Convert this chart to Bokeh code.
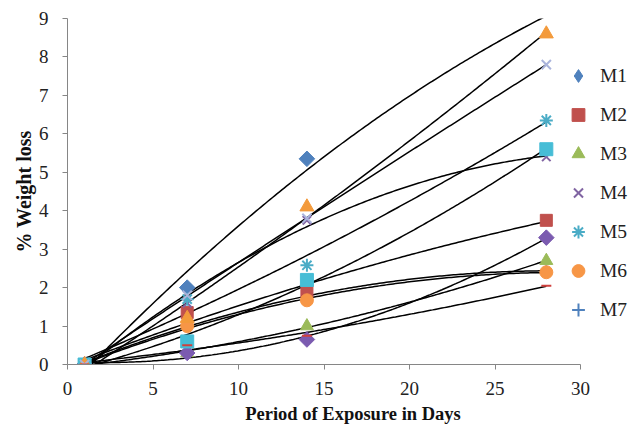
import numpy as np
from bokeh.plotting import figure
from bokeh.models import Range1d, FixedTicker, Legend, LegendItem, ColumnDataSource, Title
from bokeh.embed import file_html
from bokeh.resources import INLINE

days = [1, 7, 14, 28]

# legend series
M1 = [0.0, 2.0, 5.35, 9.02]
M2 = [0.0, 1.35, 1.9, 3.75]
M3 = [0.0, 0.3, 1.0, 2.7]
M4 = [0.0, 1.6, 3.75, 5.4]
M5 = [0.0, 1.7, 2.58, 6.35]
M6 = [0.0, 1.0, 1.67, 2.4]
M7 = [0.0, 1.1, 1.7, 2.45]
# further series (not in visible legend)
M8 = [0.0, 0.3, 0.65, 3.3]
M9 = [0.0, 0.6, 2.2, 5.6]
M10 = [0.0, 1.2, 4.1, 8.6]
M11 = [0.0, 1.8, 3.8, 7.8]
M12 = [0.0, 0.5, 0.75, 2.05]

Y_MAX = 9

# name, values, marker, angle, colour, size, in legend, draw order
series = [
    ("M1", M1, "square", 0.785398, "#4F81BD", 11, True, 1),
    ("M2", M2, "square", 0, "#C0504D", 12, True, 2),
    ("M3", M3, "triangle", 0, "#9BBB59", 13, True, 3),
    ("M4", M4, "x", 0, "#8064A2", 12, True, 4),
    ("M5", M5, "asterisk", 0, "#4BACC6", 13, True, 5),
    ("M6", M6, "circle", 0, "#F79646", 13, True, 6),
    ("M7", M7, "cross", 0, "#4F81BD", 10, True, 0),
    ("M8", M8, "square", 0.785398, "#7B5BB0", 11, False, 8),
    ("M9", M9, "square", 0, "#46BDD6", 13, False, 9),
    ("M10", M10, "triangle", 0, "#F39A3B", 14, False, 10),
    ("M11", M11, "x", 0, "#AAB4DC", 13, False, 11),
    ("M12", M12, "dash", 0, "#D0403D", 10, False, 12),
]

p = figure(width=638, height=428, output_backend="svg", toolbar_location=None,
           x_range=Range1d(0, 33.39), y_range=Range1d(0, Y_MAX),
           min_border_left=67, min_border_top=18, min_border_bottom=64, min_border_right=0)
p.outline_line_color = None
p.grid.visible = False

FONT = "Liberation Serif"
for ax in (p.xaxis[0], p.yaxis[0]):
    ax.axis_line_color = "#868686"
    ax.major_tick_line_color = "#868686"
    ax.minor_tick_line_color = None
    ax.major_tick_out = 5
    ax.major_tick_in = 0
    ax.major_label_text_font = FONT
    ax.major_label_text_font_size = "19px"
    ax.major_label_text_color = "#222222"
    ax.axis_label_text_font = FONT
    ax.axis_label_text_font_style = "bold"
    ax.axis_label_text_font_size = "18.5px"
    ax.axis_label_text_color = "#111111"

p.xaxis.ticker = FixedTicker(ticks=[0, 5, 10, 15, 20, 25, 30])
p.xaxis.bounds = (0, 30)
p.yaxis.ticker = FixedTicker(ticks=list(range(10)))
p.xaxis.axis_label = "Period of Exposure in Days"
p.xaxis.major_label_standoff = 12
p.yaxis.major_label_standoff = 14
p.xaxis.axis_label_standoff = 6

ytitle = Title(text="% Weight loss", align="center", offset=26,
               text_font=FONT, text_font_style="bold", text_font_size="20px",
               text_color="#111111", standoff=2)
p.add_layout(ytitle, "left")

xs = np.array(days, dtype=float)
xfit = np.linspace(xs.min(), xs.max(), 200)
for name, vals, mk, ang, col, sz, leg, order in series:
    coef = np.polyfit(xs, np.array(vals), 2)
    p.line(xfit, np.polyval(coef, xfit), line_color="black", line_width=1.5)

renderers = {}
m1_key = None
for name, vals, mk, ang, col, sz, leg, order in sorted(series, key=lambda s: s[7]):
    keep = [i for i, v in enumerate(vals) if v <= Y_MAX]
    src = ColumnDataSource(dict(x=[days[i] for i in keep], y=[vals[i] for i in keep]))
    if name == "M1":
        # small diamond hidden under the rotated squares, used as the legend swatch
        m1_key = p.scatter("x", "y", source=src, marker="diamond", size=8,
                           fill_color=col, line_color=col)
    r = p.scatter("x", "y", source=src, marker=mk, size=sz, angle=ang, fill_color=col,
                  line_color=col, line_width=2 if mk in ("x", "asterisk", "cross", "dash") else 1)
    renderers[name] = r

items = []
for name, vals, mk, ang, col, sz, leg, order in series:
    if leg:
        items.append(LegendItem(label=name, renderers=[m1_key if name == "M1" else renderers[name]]))
legend = Legend(items=items, location=(495, 35))
legend.glyph_height = 39
legend.label_height = 39
legend.glyph_width = 32
legend.spacing = 0
legend.padding = 0
legend.margin = 0
legend.label_standoff = 6
legend.border_line_color = None
legend.background_fill_alpha = 0
legend.label_text_font = FONT
legend.label_text_font_size = "19.5px"
legend.label_text_color = "#222222"
p.add_layout(legend, "center")

open("out.html", "w").write(file_html(p, INLINE))
